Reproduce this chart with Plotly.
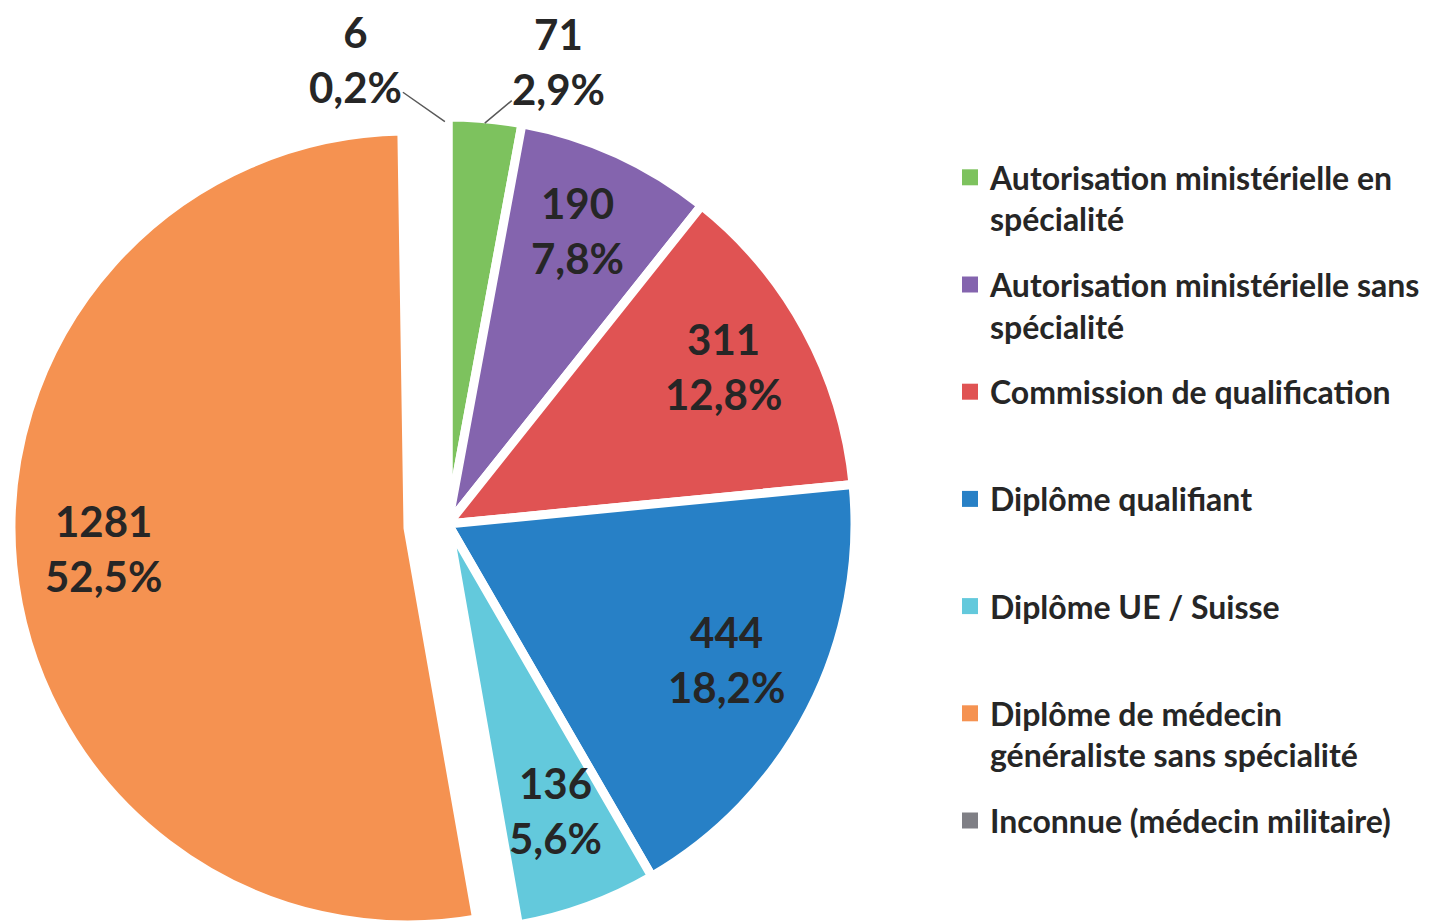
import numpy as np
import plotly.graph_objects as go

labels = [
    "Autorisation ministérielle en spécialité",
    "Autorisation ministérielle sans spécialité",
    "Commission de qualification",
    "Diplôme qualifiant",
    "Diplôme UE / Suisse",
    "Diplôme de médecin généraliste sans spécialité",
    "Inconnue (médecin militaire)",
]
legend_labels = [
    "Autorisation ministérielle en<br>spécialité",
    "Autorisation ministérielle sans<br>spécialité",
    "Commission de qualification<br> ",
    "Diplôme qualifiant<br> ",
    "Diplôme UE / Suisse<br> ",
    "Diplôme de médecin<br>généraliste sans spécialité",
    "Inconnue (médecin militaire)<br> ",
]
values = [71, 190, 311, 444, 136, 1281, 6]
pct_labels = ["2,9%", "7,8%", "12,8%", "18,2%", "5,6%", "52,5%", "0,2%"]
colors = ["#7DC25E", "#8464AE", "#E05353", "#2780C6", "#63C9DC", "#F59251", "#7F7F85"]
pulled = [False, False, False, False, False, True, False]

W, H = 1437, 923
TRANSP = "rgba(0,0,0,0)"
LW = 9

# pie geometry (pixels): main pie and the exploded slice
MAIN_DOM_X = [33, 847]
MAIN_DOM_Y = [0, 814]      # from bottom
PULL_DOM_X = [3, 797]
PULL_DOM_Y = [6, 800]

def dom_geom(dx, dy):
    cx = (dx[0] + dx[1]) / 2
    cy = H - (dy[0] + dy[1]) / 2
    r = min(dx[1] - dx[0], dy[1] - dy[0]) / 2
    return cx, cy, r

texts = [f"{v}<br>{p}" for v, p in zip(values, pct_labels)]

main_colors = [TRANSP if p else c for p, c in zip(pulled, colors)]
main_lw = [0 if p else LW for p in pulled]
pull_colors = [c if p else TRANSP for p, c in zip(pulled, colors)]
pull_lw = [LW if p else 0 for p in pulled]

fig = go.Figure()
fig.add_trace(go.Pie(
    labels=labels, values=values, sort=False, direction="clockwise", rotation=0,
    marker=dict(colors=main_colors, line=dict(color="white", width=main_lw)),
    textinfo="none",
    domain=dict(x=[MAIN_DOM_X[0] / W, MAIN_DOM_X[1] / W], y=[MAIN_DOM_Y[0] / H, MAIN_DOM_Y[1] / H]),
    showlegend=False, hoverinfo="skip",
))
fig.add_trace(go.Pie(
    labels=labels, values=values, sort=False, direction="clockwise", rotation=0,
    marker=dict(colors=pull_colors, line=dict(color="white", width=pull_lw)),
    textinfo="none",
    domain=dict(x=[PULL_DOM_X[0] / W, PULL_DOM_X[1] / W], y=[PULL_DOM_Y[0] / H, PULL_DOM_Y[1] / H]),
    showlegend=False, hoverinfo="skip",
))

# data labels, positioned from the slice angles
vals = np.array(values, dtype=float)
frac_end = np.cumsum(vals) / vals.sum()
frac_mid = frac_end - vals / vals.sum() / 2
theta = 2 * np.pi * frac_mid  # clockwise from 12 o'clock
text_font = dict(family="Lato", size=42, color="#262626", weight="bold")
LABEL_R = 0.77

annotations = []
for i, t in enumerate(texts):
    if pulled[i]:
        cx, cy, r = dom_geom(PULL_DOM_X, PULL_DOM_Y)
    else:
        cx, cy, r = dom_geom(MAIN_DOM_X, MAIN_DOM_Y)
    s, c = np.sin(theta[i]), np.cos(theta[i])
    if values[i] >= 100:
        px = cx + LABEL_R * r * s
        py = cy - LABEL_R * r * c
        annotations.append(dict(
            x=px / W, y=1 - py / H, xref="paper", yref="paper",
            text=t, showarrow=False, font=text_font,
            xanchor="center", yanchor="middle", yshift=8,
        ))
    else:
        # small slices: outside label with leader line
        re = r - LW / 2
        px = cx + re * s
        py = cy - re * c
        left = s < 0.02
        annotations.append(dict(
            x=px / W, y=1 - py / H, xref="paper", yref="paper",
            text=t, font=text_font, showarrow=True, borderpad=0,
            arrowhead=0, arrowwidth=1.5, arrowcolor="#595959",
            ax=-89 if left else 74, ay=-62, standoff=0,
            xanchor="center", yanchor="middle",
        ))

for i, (lab, col) in enumerate(zip(legend_labels, colors)):
    fig.add_trace(go.Scatter(
        x=[None], y=[None], mode="markers", name=lab,
        marker=dict(symbol="square", size=16, color=col),
        legendgroup=f"g{i}", showlegend=True,
    ))

fig.update_layout(
    width=W, height=H,
    margin=dict(l=0, r=0, t=0, b=0),
    paper_bgcolor="white", plot_bgcolor="white",
    xaxis=dict(visible=False), yaxis=dict(visible=False),
    annotations=annotations,
    legend=dict(
        x=942 / W, y=1 - 142 / H, xanchor="left", yanchor="top",
        font=dict(family="Lato", size=32, color="#262626", weight="bold"),
        valign="top", tracegroupgap=21, itemclick=False,
        bgcolor="rgba(0,0,0,0)",
    ),
)

fig.write_html("out.html")
